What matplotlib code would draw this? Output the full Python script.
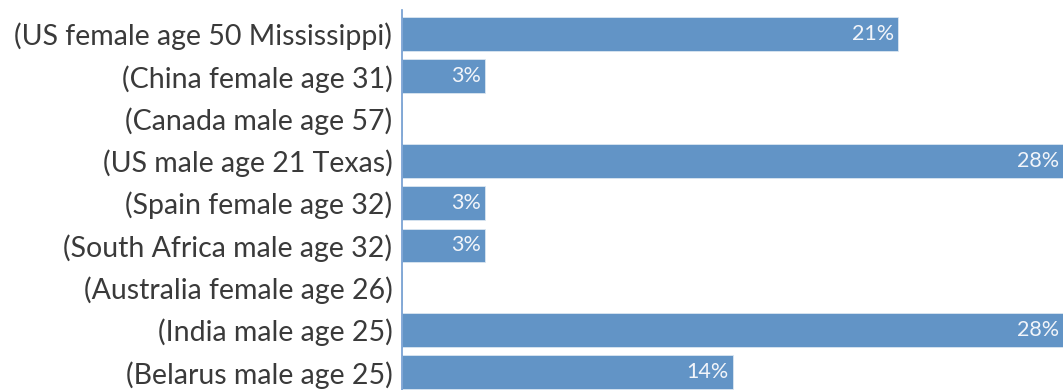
import matplotlib
matplotlib.use("Agg")
import matplotlib.pyplot as plt

# категории и значения (доля, %)
labels = [
    "(US female age 50 Mississippi)",
    "(China female age 31)",
    "(Canada male age 57)",
    "(US male age 21 Texas)",
    "(Spain female age 32)",
    "(South Africa male age 32)",
    "(Australia female age 26)",
    "(India male age 25)",
    "(Belarus male age 25)",
]
values = [20.7, 3.45, 0, 27.6, 3.45, 3.45, 0, 27.6, 13.8]

bar_color = "#6294c6"
text_color = "#3a3a3a"

fig = plt.figure(figsize=(10.63, 3.9), dpi=100)
ax = fig.add_axes([402 / 1063, 0, 661 / 1063, 380 / 390])

y = list(range(len(labels)))
ax.barh(y, values, height=0.8, color=bar_color, edgecolor="#dbe6f1", linewidth=0.6)

# подписи значений внутри столбцов
for yi, v in zip(y, values):
    if v > 0:
        ax.text(v - 0.15, yi, f"{v:.0f}%", ha="right", va="center",
                color="#f2f5fa", fontsize=15.5, family="Lato")

ax.set_xlim(0, 27.6)
ax.set_ylim(8.42, -0.57)
ax.set_yticks(y)
ax.set_yticklabels(labels, fontsize=20.5, family="Lato", color=text_color)
ax.tick_params(axis="y", length=0, pad=7)
ax.set_xticks([])

for side in ["top", "right", "bottom"]:
    ax.spines[side].set_visible(False)
ax.spines["left"].set_color("#6f9bd0")
ax.spines["left"].set_linewidth(1.2)

fig.savefig("out.png", dpi=100)
